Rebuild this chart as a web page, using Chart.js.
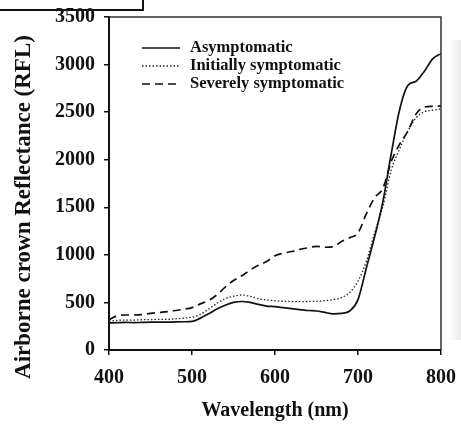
<!DOCTYPE html>
<html lang="en">
<head>
    <meta charset="UTF-8">
    <title>Airborne crown reflectance</title>
    <script src="https://cdn.jsdelivr.net/npm/chart.js"></script>
    <style>
        body { margin: 0; background: #fff; }
        .wrap { position: relative; width: 461px; height: 426px; }
        .shade { position: absolute; left: 449px; top: 40px; width: 12px; height: 300px;
                 background: linear-gradient(to right, #fff, #ececec); }
    </style>
</head>
<body>
    <div class="wrap">
        <canvas id="rflChart" width="461" height="426"></canvas>
        <div class="shade"></div>
    </div>

    <script>
        // wavelength (nm), every 10 nm
        const wavelengths = [400, 410, 420, 430, 440, 450, 460, 470, 480, 490,
                             500, 510, 520, 530, 540, 550, 560, 570, 580, 590,
                             600, 610, 620, 630, 640, 650, 660, 670, 680, 690,
                             700, 710, 720, 730, 740, 750, 760, 770, 780, 790, 800];

        const asymptomatic = [285, 288, 290, 288, 290, 292, 292, 292, 295, 297,
                              300, 335, 380, 430, 470, 500, 510, 500, 480, 462,
                              455, 445, 435, 425, 415, 410, 395, 380, 385, 410,
                              530, 860, 1190, 1560, 2060, 2520, 2780, 2825, 2930, 3060, 3115];

        const initiallySymptomatic = [300, 312, 315, 315, 318, 320, 322, 322, 328, 335,
                                      345, 375, 430, 490, 540, 565, 578, 565, 540, 526,
                                      518, 512, 510, 508, 510, 512, 518, 530, 550, 605,
                                      725, 930, 1230, 1510, 1890, 2110, 2300, 2440, 2505, 2520, 2535];

        const severelySymptomatic = [318, 360, 368, 368, 372, 385, 395, 403, 415, 428,
                                     445, 485, 520, 580, 660, 730, 780, 840, 890, 930,
                                     990, 1017, 1035, 1058, 1075, 1090, 1080, 1085, 1140, 1180,
                                     1230, 1430, 1600, 1700, 1980, 2160, 2300, 2480, 2555, 2560, 2566];

        const yTicks = [0, 500, 1000, 1500, 2000, 2500, 3000, 3500];
        const xTicks = [400, 500, 600, 700, 800];

        const serif = '"Liberation Serif", "Times New Roman", serif';

        function points(values) {
            return values.map((v, i) => ({ x: wavelengths[i], y: v }));
        }

        // frame, y title and the in-plot legend
        const decorations = {
            id: 'decorations',
            afterDraw(chart) {
                const ctx = chart.ctx;
                const a = chart.chartArea;
                ctx.save();

                ctx.strokeStyle = '#333';
                ctx.lineWidth = 1.5;
                ctx.beginPath();
                ctx.moveTo(a.left, a.top);
                ctx.lineTo(a.right, a.top);
                ctx.lineTo(a.right, a.bottom);
                ctx.stroke();

                // bit of the box cut off at the top left
                ctx.strokeStyle = '#111';
                ctx.lineWidth = 2;
                ctx.beginPath();
                ctx.moveTo(0, 10);
                ctx.lineTo(143, 10);
                ctx.lineTo(143, 0);
                ctx.stroke();

                // y axis title
                ctx.fillStyle = '#111';
                ctx.font = 'bold 23px ' + serif;
                ctx.textAlign = 'center';
                ctx.textBaseline = 'middle';
                ctx.translate(24, 207);
                ctx.rotate(-Math.PI / 2);
                ctx.fillText('Airborne crown Reflectance (RFL)', 0, 0);
                ctx.setTransform(1, 0, 0, 1, 0, 0);

                // legend
                ctx.font = 'bold 16.5px ' + serif;
                ctx.textAlign = 'left';
                chart.data.datasets.forEach((ds, i) => {
                    const y = 48 + i * 18;
                    ctx.strokeStyle = ds.borderColor;
                    ctx.lineWidth = ds.borderWidth;
                    ctx.setLineDash(ds.borderDash || []);
                    ctx.beginPath();
                    ctx.moveTo(142, y);
                    ctx.lineTo(180, y);
                    ctx.stroke();
                    ctx.setLineDash([]);
                    ctx.fillText(ds.label, 190, y);
                });
                ctx.restore();
            }
        };

        const ctx = document.getElementById('rflChart').getContext('2d');
        new Chart(ctx, {
            type: 'line',
            data: {
                datasets: [
                    { label: 'Asymptomatic', data: points(asymptomatic),
                      borderColor: '#111', borderWidth: 1.7 },
                    { label: 'Initially symptomatic', data: points(initiallySymptomatic),
                      borderColor: '#222', borderWidth: 1.3, borderDash: [1.5, 2] },
                    { label: 'Severely symptomatic', data: points(severelySymptomatic),
                      borderColor: '#111', borderWidth: 1.7, borderDash: [8, 5] }
                ]
            },
            options: {
                responsive: false,
                animation: false,
                events: [],
                cubicInterpolationMode: 'monotone',
                elements: { point: { radius: 0 } },
                layout: { padding: { top: 17, right: 20, left: 0, bottom: 0 } },
                plugins: { legend: { display: false }, tooltip: { enabled: false } },
                scales: {
                    x: {
                        type: 'linear',
                        min: 400, max: 800,
                        afterFit: s => { s.height = 76; s.paddingLeft = 0; s.paddingRight = 0; },
                        afterBuildTicks: s => { s.ticks = xTicks.map(v => ({ value: v })); },
                        grid: { drawOnChartArea: false, tickLength: 5, color: '#111', lineWidth: 1.5 },
                        border: { color: '#111', width: 2 },
                        ticks: { color: '#111', padding: 11, callback: v => String(v),
                                 font: { family: serif, size: 20, weight: 'bold' } },
                        title: { display: true, text: 'Wavelength (nm)', color: '#111',
                                 padding: { top: 0, bottom: 3 },
                                 font: { family: serif, size: 20, weight: 'bold' } }
                    },
                    y: {
                        min: 0, max: 3500,
                        afterFit: s => { s.width = 109; s.paddingTop = 0; s.paddingBottom = 0; },
                        afterBuildTicks: s => { s.ticks = yTicks.map(v => ({ value: v })); },
                        grid: { drawOnChartArea: false, tickLength: 5, color: '#111', lineWidth: 1.5 },
                        border: { color: '#111', width: 2 },
                        ticks: { color: '#111', padding: 9, callback: v => String(v),
                                 font: { family: serif, size: 20, weight: 'bold' } }
                    }
                }
            },
            plugins: [decorations]
        });
    </script>
</body>
</html>
